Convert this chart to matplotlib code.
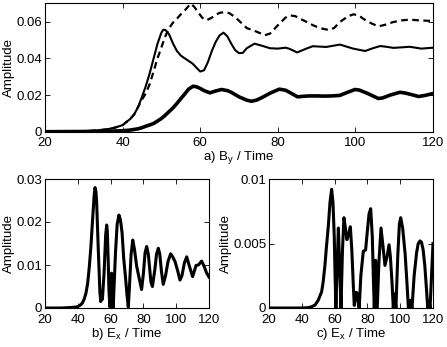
import matplotlib
matplotlib.use("Agg")
import matplotlib.pyplot as plt
import numpy as np

plt.rcParams['font.family'] = ['Liberation Sans', 'DejaVu Sans']
plt.rcParams['mathtext.default'] = 'regular'
plt.rcParams['font.size'] = 9.5

# ---------------- panel a) B_y ----------------
t_mid = [20, 25, 30, 33, 36, 38, 40, 42, 43, 44, 45, 46, 47, 48, 49, 50, 50.5, 51, 52, 53, 54, 55, 56, 58, 59,
         60, 61, 62, 63, 64, 65, 66, 67, 68, 69, 70, 71, 72, 74, 76, 78, 80, 82, 83, 85, 87, 89, 92.5, 96,
         99.4, 102.5, 104.5, 106.4, 108, 109.8, 112, 114, 117, 120]
v_mid = [0, 0.0001, 0.0003, 0.0006, 0.0013, 0.0022, 0.0036, 0.007, 0.0095, 0.0135, 0.019, 0.025, 0.032, 0.040,
         0.048, 0.054, 0.0556, 0.0555, 0.053, 0.048, 0.044, 0.0415, 0.040, 0.0372, 0.035,
         0.0328, 0.0335, 0.038, 0.044, 0.049, 0.0525, 0.054, 0.052, 0.048, 0.0445, 0.0428, 0.043, 0.0455, 0.048,
         0.0468, 0.0455, 0.0453, 0.0458, 0.0452, 0.0432, 0.045, 0.0466, 0.0462, 0.0475,
         0.0453, 0.044, 0.0455, 0.0467, 0.0463, 0.0457, 0.046, 0.0463, 0.0453, 0.0458]

t_dash = [20, 25, 30, 33, 36, 38, 40, 42, 43, 44, 45, 46, 47, 48, 49, 50, 51, 52, 53, 54, 55, 56, 57, 57.6,
          58.5, 59.5, 60.5, 61.6, 63, 64, 65, 66.3, 67.5, 69, 70.5, 72, 74, 76.7, 78, 80, 82, 83.1, 84.5,
          85.7, 87.5, 89.1, 91, 93, 94.5, 96, 98, 99.5, 101, 102, 104, 105.9, 107.5, 109.8, 112, 114, 117, 120]
v_dash = [0, 0.0001, 0.0003, 0.0006, 0.0013, 0.0022, 0.0036, 0.007, 0.0095, 0.0135, 0.0175, 0.021, 0.026,
          0.033, 0.040, 0.046, 0.052, 0.0565, 0.0595, 0.0616, 0.064, 0.066, 0.0685, 0.0698,
          0.068, 0.065, 0.0622, 0.0607, 0.0622, 0.0637, 0.0648, 0.0652, 0.0646, 0.0625, 0.0595, 0.0565, 0.055,
          0.0526, 0.0535, 0.058, 0.0622, 0.0634, 0.063,
          0.0616, 0.0598, 0.058, 0.0564, 0.0555, 0.0565, 0.0598, 0.0628, 0.064, 0.0632, 0.0616, 0.0592, 0.0574,
          0.0582, 0.0598, 0.0607, 0.0611, 0.0606, 0.0604]

t_thick = [20, 30, 35, 40, 42, 44, 45, 46, 47, 48, 49, 50, 51, 52, 53, 54, 55, 56, 57, 58.2, 59, 60, 61, 62.5,
           64, 65.5, 67, 68, 70, 72, 73.2, 74.5, 76, 78, 80.4, 82, 83, 85.1, 86, 88, 90, 92, 94, 96, 98,
           99.9, 101, 103, 105.9, 107, 109, 111.5, 113, 114.5, 116.3, 118, 120]
v_thick = [0, 0.0001, 0.0002, 0.0005, 0.0009, 0.0016, 0.0022, 0.003, 0.0037, 0.0045, 0.0058, 0.0072, 0.009,
           0.011, 0.013, 0.0154, 0.018, 0.0205, 0.0232, 0.0248, 0.0245, 0.0236, 0.0224, 0.0212,
           0.0222, 0.023, 0.0224, 0.0215, 0.019, 0.0172, 0.0166, 0.0172, 0.0187, 0.021, 0.0232, 0.0226, 0.0215,
           0.019, 0.0192, 0.0195, 0.0195, 0.0194, 0.0195, 0.0198, 0.0215,
           0.023, 0.0227, 0.021, 0.0181, 0.0184, 0.0200, 0.0215, 0.021, 0.0202, 0.0192, 0.0198, 0.0208]

# ---------------- panel b) E_x ----------------
t_b = [20, 30, 35, 38, 40, 42, 43, 44, 45, 46, 47, 48, 49, 50, 50.5, 51, 51.5, 52, 52.5, 53, 53.5, 54, 54.5,
       55, 56, 57, 57.6, 58, 58.5, 59, 59.6, 60, 60.6, 61, 61.6, 62, 63, 64, 65.1, 66, 67, 68, 69, 70, 70.8,
       71.5, 72.5, 73.5, 74.5, 75.9, 77.5, 78.9, 80, 81, 82, 83, 84.6, 85.5, 87, 88, 89.1, 90, 91, 92.1, 93.5,
       95, 96.6, 98, 99.3, 101, 102.3, 103.5, 105, 106.4, 108, 110, 111, 112.1, 113.5, 115.5, 117, 118.5, 120]
v_b = [0, 0, 0.0001, 0.0002, 0.0003, 0.0008, 0.0013, 0.0022, 0.0035, 0.0057, 0.0095, 0.0143, 0.0205, 0.0263,
       0.028, 0.0272, 0.0245, 0.019, 0.0135, 0.0085, 0.0035, 0.0015, 0.0025,
       0.002, 0.008, 0.017, 0.0193, 0.018, 0.0115, 0.004, 0.0002, 0.004, 0.0081, 0.004, 0.0001, 0.004, 0.013,
       0.0195, 0.0216, 0.0205, 0.0175, 0.0115, 0.0075, 0.003, 0.0002,
       0.005, 0.0125, 0.0158, 0.0138, 0.0097, 0.0068, 0.0043, 0.008, 0.0128, 0.0143, 0.0125, 0.006, 0.005,
       0.009, 0.0125, 0.0139, 0.0125, 0.0085, 0.0055, 0.0075,
       0.0108, 0.0126, 0.0118, 0.0108, 0.0085, 0.0065, 0.0075, 0.0105, 0.0119, 0.0098, 0.0073, 0.0085, 0.0099,
       0.0100, 0.0109, 0.0097, 0.0082, 0.0072]

# ---------------- panel c) E_x ----------------
t_c = [20, 40, 44, 46, 48.1, 50, 52.1, 53, 54.1, 55, 56.2, 57.2, 58.2, 59, 59.8, 60.3, 60.8, 61.5, 62.3, 63,
       63.9, 64.8, 65.7, 66.6, 67.5, 68.5, 69.6, 70.5, 71.5, 72, 73, 73.5, 74.3, 75, 76, 77.5, 78.9, 80, 81,
       82, 83, 83.6, 84.2, 85, 86, 87, 88.3, 89.5, 90.7, 92, 93.2, 94, 95, 95.8, 96.4, 97.4, 98.5, 99.5,
       100.3, 101.5, 103, 104, 105, 106, 107.2, 108.5, 110, 111, 112.1, 113, 114, 115, 116, 116.8, 117.6,
       118.2, 119, 120]
v_c = [0, 0, 0.00003, 0.0001, 0.00023, 0.0006, 0.00126, 0.002, 0.0033, 0.0047, 0.0064, 0.0082, 0.0092, 0.0082,
       0.0055, 0.0025, 0.0, 0.003, 0.0062, 0.0035,
       0.0, 0.0045, 0.007, 0.0062, 0.0053, 0.0057, 0.0063, 0.0045, 0.0015, 0.0002, 0.0012, 0.0012, 0.0005, 0.0,
       0.0025, 0.0044, 0.0045, 0.006, 0.0073,
       0.0077, 0.0055, 0.0025, 0.0, 0.0037, 0.0, 0.0035, 0.0062, 0.0048, 0.0033, 0.004, 0.0049, 0.004, 0.002,
       0.0, 0.0011, 0.0, 0.004, 0.0065,
       0.007, 0.0062, 0.0042, 0.0022, 0.0, 0.0006, 0.0, 0.0025, 0.0043, 0.005, 0.0052, 0.0051, 0.0045, 0.0033,
       0.0015, 0.0, 0.0005,
       0.0, 0.0022, 0.005]

W, H = 447, 347
fig = plt.figure(figsize=(W / 100, H / 100), dpi=100)


def px_axes(l, t, r, b):
    return fig.add_axes([l / W, 1 - b / H, (r - l) / W, (b - t) / H])


def style(ax):
    ax.tick_params(direction='in', top=True, right=True, length=3.5, width=0.6, pad=2,
                   labelsize=9.5, colors='black')
    ax.tick_params(axis='x', pad=4)
    for s in ax.spines.values():
        s.set_linewidth(0.8)
    ax.set_xlim(20, 120)
    ax.set_xticks([20, 40, 60, 80, 100, 120])


ax1 = px_axes(45, 3.3, 433, 131.7)
ax1.plot(t_mid, v_mid, color='black', lw=1.5, solid_joinstyle='round')
ax1.plot(t_dash, v_dash, color='black', lw=1.6, dashes=(3, 2))
ax1.plot(t_thick, v_thick, color='black', lw=2.6, solid_joinstyle='round')
style(ax1)
ax1.set_ylim(0, 0.07)
ax1.set_yticks([0, 0.02, 0.04, 0.06])
ax1.set_yticklabels(['0', '0.02', '0.04', '0.06'])
ax1.set_xlabel('a) B$_y$ / Time', labelpad=0)
ax1.set_ylabel('Amplitude', labelpad=1)

ax2 = px_axes(45, 179, 209, 308)
ax2.plot(t_b, v_b, color='black', lw=2.2, solid_joinstyle='round')
style(ax2)
ax2.set_ylim(0, 0.03)
ax2.set_yticks([0, 0.01, 0.02, 0.03])
ax2.set_yticklabels(['0', '0.01', '0.02', '0.03'])
ax2.set_xlabel('b) E$_x$ / Time', labelpad=0)
ax2.set_ylabel('Amplitude', labelpad=1)

ax3 = px_axes(269, 179, 433, 308)
ax3.plot(t_c, v_c, color='black', lw=2.2, solid_joinstyle='round')
style(ax3)
ax3.set_ylim(0, 0.01)
ax3.set_yticks([0, 0.005, 0.01])
ax3.set_yticklabels(['0', '0.005', '0.01'])
ax3.set_xlabel('c) E$_x$ / Time', labelpad=0)
ax3.set_ylabel('Amplitude', labelpad=1)

fig.savefig('out.png', dpi=100)
